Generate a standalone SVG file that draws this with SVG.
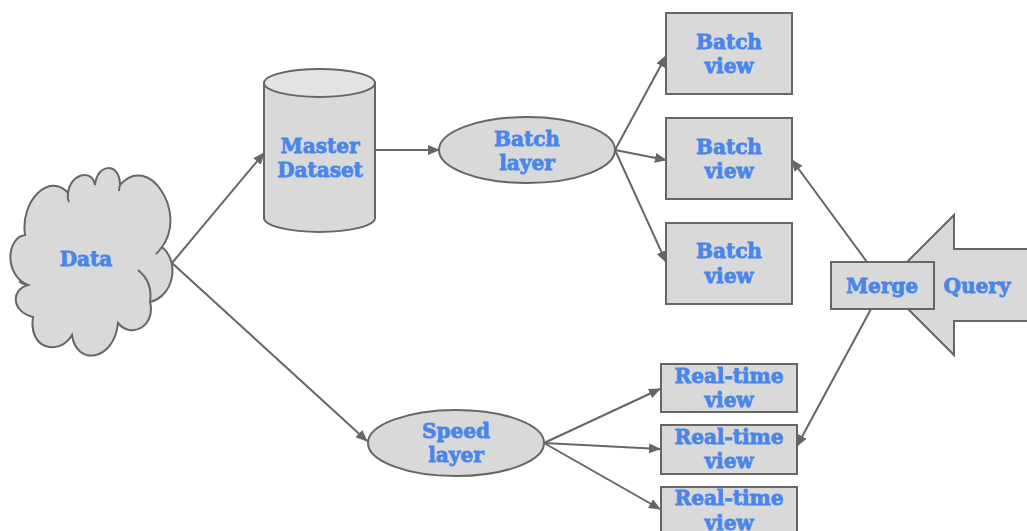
<svg xmlns="http://www.w3.org/2000/svg" width="1027" height="531" viewBox="0 0 1027 531">
<style>
.shape{fill:#d9d9d9;stroke:#666666;stroke-width:2}
.lbl{font-family:"DejaVu Serif","Liberation Serif",serif;font-weight:bold;font-size:20px;fill:#4a86e8;stroke:#4a86e8;stroke-width:0.8;text-anchor:middle}
.conn{fill:none;stroke:#666666;stroke-width:2}
.inner{fill:none;stroke:#666666;stroke-width:2}
</style>
<defs>
<marker id="arr" viewBox="0 0 12 10" refX="11" refY="5" markerWidth="12" markerHeight="10" markerUnits="userSpaceOnUse" orient="auto">
<path d="M0,0 L12,5 L0,10 Z" fill="#666666"/>
</marker>
</defs>
<rect width="1027" height="531" fill="#ffffff"/>

<g id="data">
<path class="shape" d="M25,235 C20,200 50,172 68,193 C70,174 92,168 95,185 C97,163 120,162 120,185 C148,152 188,212 162,247 C180,262 174,296 150,302 C156,325 132,340 118,323 C114,362 76,366 72,335 C60,356 28,350 33,317 C12,312 10,290 28,285 C4,275 6,238 25,235 Z"/>
<path class="inner" d="M138,270 Q153,282 150,302"/>
<path class="inner" d="M28,285 Q22,284 19,281"/>
<path class="inner" d="M68,193 Q67,198 69,202"/>
<path class="inner" d="M120,185 Q119,188 119,191"/>
<path class="inner" d="M162,247 Q159,251 156,254"/>
<text class="lbl" x="86" y="266">Data</text>
</g>

<g id="master">
<path class="shape" d="M264,83 L264,218 A55.5,14 0 0 0 375,218 L375,83 Z"/>
<ellipse cx="319.5" cy="83" rx="55.5" ry="14" fill="#e3e3e3" stroke="#666666" stroke-width="2"/>
<text class="lbl" x="320" y="153">Master</text>
<text class="lbl" x="320" y="177">Dataset</text>
</g>

<g id="batch-layer">
<ellipse class="shape" cx="527" cy="150" rx="88" ry="33"/>
<text class="lbl" x="527" y="146">Batch</text>
<text class="lbl" x="527" y="170">layer</text>
</g>

<g id="speed-layer">
<ellipse class="shape" cx="456" cy="443" rx="88" ry="33"/>
<text class="lbl" x="456" y="438">Speed</text>
<text class="lbl" x="456" y="462">layer</text>
</g>

<g id="batch-view-1">
<rect class="shape" x="666" y="13" width="126" height="81"/>
<text class="lbl" x="729" y="49">Batch</text>
<text class="lbl" x="729" y="73">view</text>
</g>
<g id="batch-view-2">
<rect class="shape" x="666" y="118" width="126" height="81"/>
<text class="lbl" x="729" y="154">Batch</text>
<text class="lbl" x="729" y="178">view</text>
</g>
<g id="batch-view-3">
<rect class="shape" x="666" y="223" width="126" height="81"/>
<text class="lbl" x="729" y="258">Batch</text>
<text class="lbl" x="729" y="283">view</text>
</g>

<g id="rt-view-1">
<rect class="shape" x="661" y="364" width="136" height="48"/>
<text class="lbl" x="729" y="383">Real-time</text>
<text class="lbl" x="729" y="407">view</text>
</g>
<g id="rt-view-2">
<rect class="shape" x="661" y="425" width="136" height="49"/>
<text class="lbl" x="729" y="444">Real-time</text>
<text class="lbl" x="729" y="468">view</text>
</g>
<g id="rt-view-3">
<rect class="shape" x="661" y="487" width="136" height="50"/>
<text class="lbl" x="729" y="505">Real-time</text>
<text class="lbl" x="729" y="530">view</text>
</g>

<g id="query">
<path class="shape" d="M884,285 L954,215 L954,249 L1032,249 L1032,321 L954,321 L954,355 Z"/>
<text class="lbl" x="977" y="293">Query</text>
</g>

<g id="merge">
<rect class="shape" x="831" y="262" width="103" height="47"/>
<text class="lbl" x="882" y="293">Merge</text>
</g>

<g id="connectors">
<line class="conn" x1="172" y1="263" x2="264" y2="153" marker-end="url(#arr)"/>
<line class="conn" x1="172" y1="263" x2="367" y2="441" marker-end="url(#arr)"/>
<line class="conn" x1="375" y1="150" x2="439" y2="150" marker-end="url(#arr)"/>
<line class="conn" x1="615" y1="150" x2="666" y2="56" marker-end="url(#arr)"/>
<line class="conn" x1="615" y1="150" x2="666" y2="160" marker-end="url(#arr)"/>
<line class="conn" x1="615" y1="150" x2="666" y2="262" marker-end="url(#arr)"/>
<line class="conn" x1="544" y1="443" x2="660" y2="389" marker-end="url(#arr)"/>
<line class="conn" x1="544" y1="443" x2="660" y2="449" marker-end="url(#arr)"/>
<line class="conn" x1="544" y1="443" x2="660" y2="509" marker-end="url(#arr)"/>
<line class="conn" x1="867" y1="262" x2="792" y2="160" marker-end="url(#arr)"/>
<line class="conn" x1="871" y1="309" x2="797" y2="446" marker-end="url(#arr)"/>
</g>
</svg>
